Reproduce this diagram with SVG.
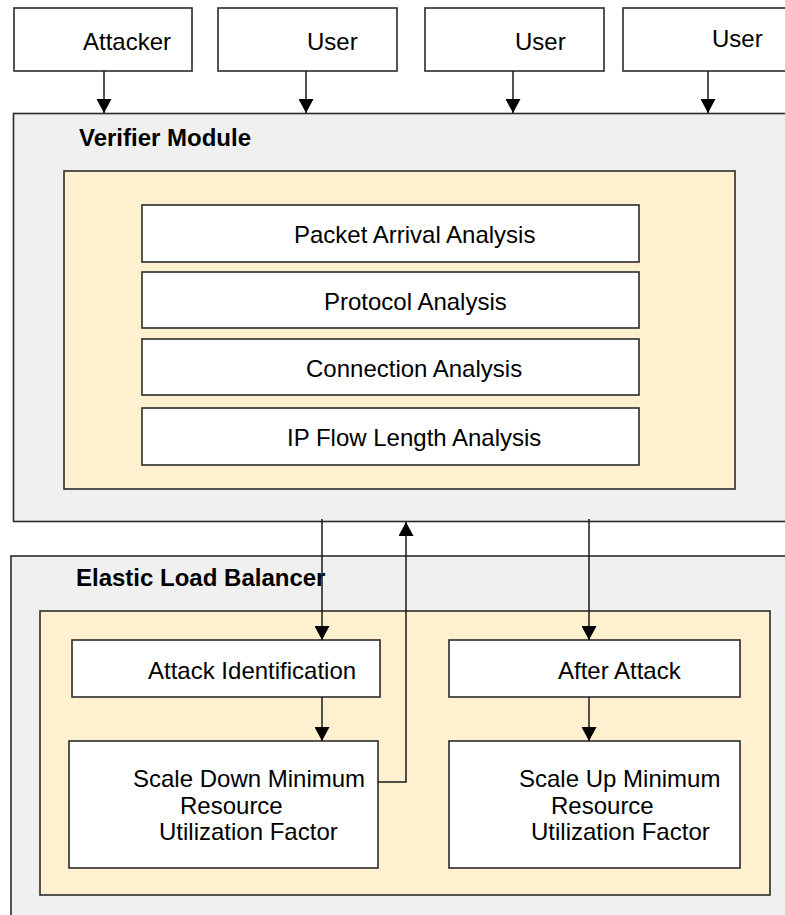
<svg xmlns="http://www.w3.org/2000/svg" width="785" height="915" viewBox="0 0 785 915">
  <style>
    .panel { fill: #f0f0f0; stroke: #2b2b2b; stroke-width: 1.6; }
    .inner { fill: #fff1cf; stroke: #2b2b2b; stroke-width: 1.6; }
    .box { fill: #ffffff; stroke: #2b2b2b; stroke-width: 1.6; }
    .lbl { font-family: "Liberation Sans", Arial, sans-serif; font-size: 24px; fill: #000; }
    .title { font-family: "Liberation Sans", Arial, sans-serif; font-size: 24px; font-weight: bold; fill: #000; }
    .wire { fill: none; stroke: #1a1a1a; stroke-width: 1.5; }
  </style>
  <defs>
    <marker id="arrow" viewBox="0 0 14 15" refX="14" refY="7.5" markerWidth="14" markerHeight="15" orient="auto" markerUnits="userSpaceOnUse">
      <path d="M0,0 L14,7.5 L0,15 z" fill="#000"/>
    </marker>
  </defs>
  <rect width="785" height="915" fill="#ffffff"/>

  <!-- sources -->
  <g id="attacker">
    <rect class="box" x="14" y="8" width="178" height="63"/>
    <text class="lbl" x="83" y="50">Attacker</text>
  </g>
  <g id="user1">
    <rect class="box" x="218" y="8" width="179" height="63"/>
    <text class="lbl" x="307" y="50">User</text>
  </g>
  <g id="user2">
    <rect class="box" x="425" y="8" width="179" height="63"/>
    <text class="lbl" x="515" y="50">User</text>
  </g>
  <g id="user3">
    <rect class="box" x="623" y="8" width="200" height="63"/>
    <text class="lbl" x="712" y="47">User</text>
  </g>

  <!-- verifier module -->
  <g id="verifier">
    <rect class="panel" x="13.5" y="113.5" width="800" height="408"/>
    <text class="title" x="79" y="146">Verifier Module</text>
    <rect class="inner" x="64" y="171" width="671" height="318"/>
  </g>
  <g id="packet-arrival">
    <rect class="box" x="142" y="205" width="497" height="57"/>
    <text class="lbl" x="294" y="243">Packet Arrival Analysis</text>
  </g>
  <g id="protocol">
    <rect class="box" x="142" y="272" width="497" height="56"/>
    <text class="lbl" x="324" y="310">Protocol Analysis</text>
  </g>
  <g id="connection">
    <rect class="box" x="142" y="339" width="497" height="56"/>
    <text class="lbl" x="306" y="377">Connection Analysis</text>
  </g>
  <g id="ip-flow">
    <rect class="box" x="142" y="408" width="497" height="57"/>
    <text class="lbl" x="287" y="446">IP Flow Length Analysis</text>
  </g>

  <!-- elastic load balancer -->
  <g id="elb">
    <rect class="panel" x="11" y="556" width="800" height="380"/>
    <text class="title" x="76" y="586">Elastic Load Balancer</text>
    <rect class="inner" x="40" y="611" width="730" height="284"/>
  </g>
  <g id="attack-identification">
    <rect class="box" x="72" y="640" width="308" height="57"/>
    <text class="lbl" x="148" y="679">Attack Identification</text>
  </g>
  <g id="after-attack">
    <rect class="box" x="449" y="640" width="291" height="57"/>
    <text class="lbl" x="558" y="679">After Attack</text>
  </g>
  <g id="scale-down">
    <rect class="box" x="69" y="741" width="309" height="127"/>
    <text class="lbl" x="133" y="787">Scale Down Minimum</text>
    <text class="lbl" x="180" y="814">Resource</text>
    <text class="lbl" x="159" y="840">Utilization Factor</text>
  </g>
  <g id="scale-up">
    <rect class="box" x="449" y="741" width="291" height="127"/>
    <text class="lbl" x="519" y="787">Scale Up Minimum</text>
    <text class="lbl" x="551" y="814">Resource</text>
    <text class="lbl" x="531" y="840">Utilization Factor</text>
  </g>

  <!-- connectors -->
  <g id="connectors">
    <line class="wire" x1="104" y1="71" x2="104" y2="113" marker-end="url(#arrow)"/>
    <line class="wire" x1="306" y1="71" x2="306" y2="113" marker-end="url(#arrow)"/>
    <line class="wire" x1="513" y1="71" x2="513" y2="113" marker-end="url(#arrow)"/>
    <line class="wire" x1="708" y1="71" x2="708" y2="113" marker-end="url(#arrow)"/>
    <line class="wire" x1="322" y1="519" x2="322" y2="640" marker-end="url(#arrow)"/>
    <line class="wire" x1="589" y1="519" x2="589" y2="640" marker-end="url(#arrow)"/>
    <polyline class="wire" points="378,782 406,782 406,522" marker-end="url(#arrow)"/>
    <line class="wire" x1="322" y1="697" x2="322" y2="741" marker-end="url(#arrow)"/>
    <line class="wire" x1="589" y1="697" x2="589" y2="741" marker-end="url(#arrow)"/>
  </g>
</svg>
